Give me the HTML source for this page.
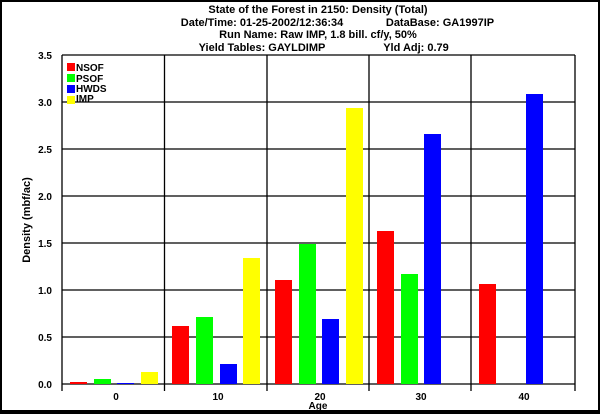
<html><head><style>body{margin:0;background:#fff}svg text{font-family:"Liberation Sans",sans-serif;font-weight:bold;fill:#000}</style></head><body>
<svg width="600" height="414" xmlns="http://www.w3.org/2000/svg">
<rect x="1" y="1" width="598" height="411" fill="#fff" stroke="#000" stroke-width="2"/>
<rect x="0" y="410" width="600" height="4" fill="#000"/>
<g font-size="11" text-anchor="middle">
<text x="318" y="13">State of the Forest in 2150: Density (Total)</text>
<text x="262" y="26">Date/Time: 01-25-2002/12:36:34</text>
<text x="440" y="26">DataBase: GA1997IP</text>
<text x="318" y="38">Run Name: Raw IMP, 1.8 bill. cf/y, 50%</text>
<text x="262" y="51">Yield Tables: GAYLDIMP</text>
<text x="416" y="51">Yld Adj: 0.79</text>
</g>
<g stroke="#000" stroke-width="1.3">
<line x1="62" y1="55" x2="575" y2="55"/><line x1="62" y1="102" x2="575" y2="102"/><line x1="62" y1="149" x2="575" y2="149"/><line x1="62" y1="196" x2="575" y2="196"/><line x1="62" y1="243" x2="575" y2="243"/><line x1="62" y1="290" x2="575" y2="290"/><line x1="62" y1="337" x2="575" y2="337"/><line x1="62" y1="384" x2="575" y2="384"/>
<line x1="62" y1="55" x2="62" y2="391"/><line x1="164.5" y1="55" x2="164.5" y2="391"/><line x1="267" y1="55" x2="267" y2="391"/><line x1="369" y1="55" x2="369" y2="391"/><line x1="471" y1="55" x2="471" y2="391"/><line x1="575" y1="55" x2="575" y2="391"/>
</g>
<g font-size="10" text-anchor="end">
<text x="52" y="59">3.5</text><text x="52" y="106">3.0</text><text x="52" y="153">2.5</text><text x="52" y="200">2.0</text><text x="52" y="247">1.5</text><text x="52" y="294">1.0</text><text x="52" y="341">0.5</text><text x="52" y="388">0.0</text>
</g>
<g font-size="10" text-anchor="middle">
<text x="116" y="400">0</text><text x="218" y="400">10</text><text x="320" y="400">20</text><text x="421" y="400">30</text><text x="524" y="400">40</text>
<text x="318" y="409">Age</text>
</g>
<text font-size="11" text-anchor="middle" transform="translate(30,220) rotate(-90)">Density (mbf/ac)</text>
<g>
<rect x="70" y="382" width="17" height="2" fill="#f00"/><rect x="94" y="379" width="17" height="5" fill="#0f0"/><rect x="117" y="383" width="17" height="1" fill="#00f"/><rect x="141" y="372" width="17" height="12" fill="#ff0"/>
<rect x="172" y="326" width="17" height="58" fill="#f00"/><rect x="196" y="317" width="17" height="67" fill="#0f0"/><rect x="220" y="364" width="17" height="20" fill="#00f"/><rect x="243" y="258" width="17" height="126" fill="#ff0"/>
<rect x="275" y="280" width="17" height="104" fill="#f00"/><rect x="299" y="244" width="17" height="140" fill="#0f0"/><rect x="322" y="319" width="17" height="65" fill="#00f"/><rect x="346" y="108" width="17" height="276" fill="#ff0"/>
<rect x="377" y="231" width="17" height="153" fill="#f00"/><rect x="401" y="274" width="17" height="110" fill="#0f0"/><rect x="424" y="134" width="17" height="250" fill="#00f"/>
<rect x="479" y="284" width="17" height="100" fill="#f00"/><rect x="526" y="94" width="17" height="290" fill="#00f"/>
</g>
<g font-size="10">
<rect x="67" y="63" width="8" height="8" fill="#f00"/><text x="76" y="71">NSOF</text>
<rect x="67" y="74" width="8" height="8" fill="#0f0"/><text x="76" y="82">PSOF</text>
<rect x="67" y="85" width="8" height="8" fill="#00f"/><text x="76" y="92">HWDS</text>
<rect x="67" y="96" width="8" height="8" fill="#ff0"/><text x="76" y="102">IMP</text>
</g>
</svg></body></html>
